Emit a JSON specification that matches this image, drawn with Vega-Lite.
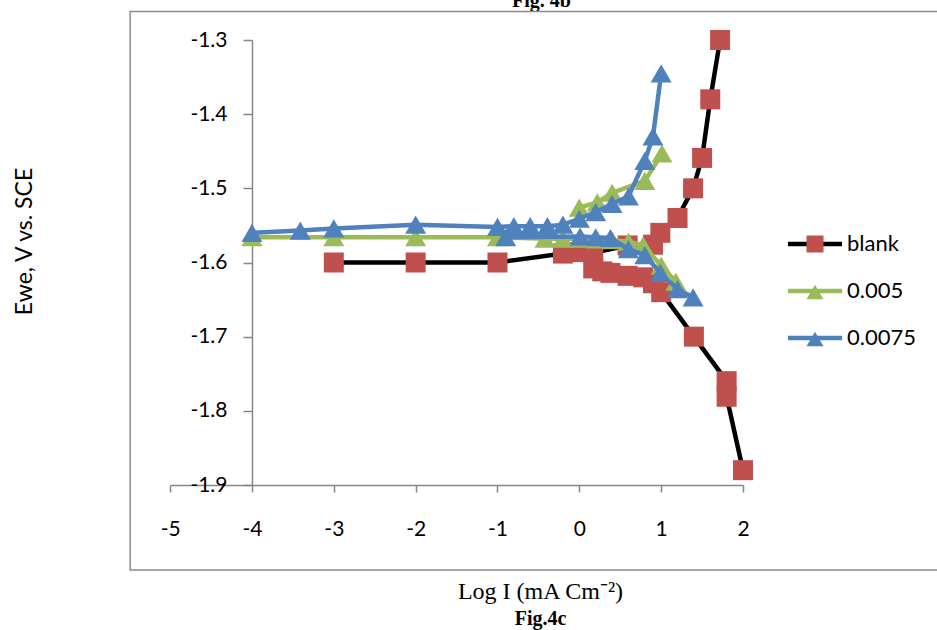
{
  "$schema": "https://vega.github.io/schema/vega-lite/v6.json",
  "width": 491,
  "height": 445,
  "autosize": {"type": "none"},
  "padding": {"left": 252, "top": 40, "right": 194, "bottom": 145},
  "background": "white",
  "config": {"view": {"stroke": null}, "font": "Lato"},
  "title": {"text": "Fig.4c", "orient": "bottom", "anchor": "middle", "frame": "group", "dx": 43, "offset": 6, "font": "Liberation Serif", "fontSize": 20, "fontWeight": "bold", "color": "black"},
  "resolve": {"axis": {"x": "independent"}},
  "data": {"values": [
    {"s":"blank","b":"a","o":1,"x":-3,"y":-1.6},
    {"s":"blank","b":"a","o":2,"x":-2,"y":-1.6},
    {"s":"blank","b":"a","o":3,"x":-1,"y":-1.6},
    {"s":"blank","b":"a","o":4,"x":-0.2,"y":-1.588},
    {"s":"blank","b":"a","o":5,"x":-0.02,"y":-1.586},
    {"s":"blank","b":"a","o":6,"x":0.17,"y":-1.587},
    {"s":"blank","b":"a","o":7,"x":0.59,"y":-1.577},
    {"s":"blank","b":"a","o":8,"x":0.9,"y":-1.576},
    {"s":"blank","b":"a","o":9,"x":0.99,"y":-1.56},
    {"s":"blank","b":"a","o":10,"x":1.2,"y":-1.54},
    {"s":"blank","b":"a","o":11,"x":1.39,"y":-1.5},
    {"s":"blank","b":"a","o":12,"x":1.5,"y":-1.459},
    {"s":"blank","b":"a","o":13,"x":1.6,"y":-1.38},
    {"s":"blank","b":"a","o":14,"x":1.72,"y":-1.3},
    {"s":"blank","b":"b","o":1,"x":0.17,"y":-1.608},
    {"s":"blank","b":"b","o":2,"x":0.28,"y":-1.612},
    {"s":"blank","b":"b","o":3,"x":0.38,"y":-1.614},
    {"s":"blank","b":"b","o":4,"x":0.59,"y":-1.618},
    {"s":"blank","b":"b","o":5,"x":0.78,"y":-1.62},
    {"s":"blank","b":"b","o":6,"x":0.9,"y":-1.628},
    {"s":"blank","b":"b","o":7,"x":1.0,"y":-1.64},
    {"s":"blank","b":"b","o":8,"x":1.4,"y":-1.7},
    {"s":"blank","b":"b","o":9,"x":1.8,"y":-1.76},
    {"s":"blank","b":"b","o":10,"x":1.8,"y":-1.781},
    {"s":"blank","b":"b","o":11,"x":2.0,"y":-1.88},
    {"s":"0.005","b":"a","o":1,"x":-4,"y":-1.566},
    {"s":"0.005","b":"a","o":2,"x":-3,"y":-1.566},
    {"s":"0.005","b":"a","o":3,"x":-2,"y":-1.566},
    {"s":"0.005","b":"a","o":4,"x":-1,"y":-1.566},
    {"s":"0.005","b":"a","o":5,"x":-0.42,"y":-1.568},
    {"s":"0.005","b":"a","o":6,"x":-0.2,"y":-1.568},
    {"s":"0.005","b":"a","o":7,"x":0.0,"y":-1.568},
    {"s":"0.005","b":"a","o":8,"x":0.2,"y":-1.569},
    {"s":"0.005","b":"a","o":9,"x":0.4,"y":-1.57},
    {"s":"0.005","b":"a","o":10,"x":0.6,"y":-1.572},
    {"s":"0.005","b":"a","o":11,"x":0.78,"y":-1.577},
    {"s":"0.005","b":"a","o":12,"x":1.0,"y":-1.604},
    {"s":"0.005","b":"a","o":13,"x":1.18,"y":-1.626},
    {"s":"0.005","b":"b","o":1,"x":0.0,"y":-1.526},
    {"s":"0.005","b":"b","o":2,"x":0.22,"y":-1.519},
    {"s":"0.005","b":"b","o":3,"x":0.4,"y":-1.506},
    {"s":"0.005","b":"b","o":4,"x":0.8,"y":-1.49},
    {"s":"0.005","b":"b","o":5,"x":1.01,"y":-1.453},
    {"s":"0.0075","b":"a","o":1,"x":-4,"y":-1.56},
    {"s":"0.0075","b":"a","o":2,"x":-3.41,"y":-1.557},
    {"s":"0.0075","b":"a","o":3,"x":-3,"y":-1.554},
    {"s":"0.0075","b":"a","o":4,"x":-2,"y":-1.549},
    {"s":"0.0075","b":"a","o":5,"x":-1,"y":-1.552},
    {"s":"0.0075","b":"a","o":6,"x":-0.8,"y":-1.551},
    {"s":"0.0075","b":"a","o":7,"x":-0.6,"y":-1.551},
    {"s":"0.0075","b":"a","o":8,"x":-0.39,"y":-1.551},
    {"s":"0.0075","b":"a","o":9,"x":-0.2,"y":-1.549},
    {"s":"0.0075","b":"a","o":10,"x":0.0,"y":-1.541},
    {"s":"0.0075","b":"a","o":11,"x":0.2,"y":-1.532},
    {"s":"0.0075","b":"a","o":12,"x":0.4,"y":-1.521},
    {"s":"0.0075","b":"a","o":13,"x":0.6,"y":-1.511},
    {"s":"0.0075","b":"a","o":14,"x":0.8,"y":-1.463},
    {"s":"0.0075","b":"a","o":15,"x":0.9,"y":-1.43},
    {"s":"0.0075","b":"a","o":16,"x":1.0,"y":-1.345},
    {"s":"0.0075","b":"b","o":1,"x":-0.9,"y":-1.566},
    {"s":"0.0075","b":"b","o":2,"x":0.01,"y":-1.565},
    {"s":"0.0075","b":"b","o":3,"x":0.2,"y":-1.566},
    {"s":"0.0075","b":"b","o":4,"x":0.38,"y":-1.567},
    {"s":"0.0075","b":"b","o":5,"x":0.6,"y":-1.582},
    {"s":"0.0075","b":"b","o":6,"x":0.8,"y":-1.59},
    {"s":"0.0075","b":"b","o":7,"x":0.99,"y":-1.614},
    {"s":"0.0075","b":"b","o":8,"x":1.2,"y":-1.636},
    {"s":"0.0075","b":"b","o":9,"x":1.39,"y":-1.647}
  ]},
  "layer": [
    {
      "data": {"values": [{}]},
      "mark": {"type": "rect", "fill": null, "stroke": "#8c8c8c", "strokeWidth": 1.5},
      "encoding": {
        "x": {"datum": -5.4887, "type": "quantitative", "scale": {"domain": [-5, 2], "range": [-81.86, 491], "nice": false, "zero": false}, "axis": null},
        "x2": {"datum": 4.6},
        "y": {"datum": -1.2616, "type": "quantitative", "scale": {"domain": [-1.9, -1.3], "nice": false, "zero": false},
          "axis": {"orient": "left", "values": [-1.9, -1.8, -1.7, -1.6, -1.5, -1.4, -1.3], "labelExpr": "'-' + format(-datum.value, '.1f')", "domainColor": "#868686", "domainWidth": 1.5, "tickColor": "#868686", "tickWidth": 1.5, "tickSize": 9, "labelFont": "Lato", "labelFontSize": 21, "labelColor": "black", "labelPadding": 16, "labelOverlap": false, "grid": false, "title": "Ewe, V vs. SCE", "titleFont": "Lato", "titleFontSize": 23, "titleFontWeight": "normal", "titleColor": "black", "titleX": -228, "titleY": 201, "titleAngle": -90, "titleAlign": "center", "titleBaseline": "middle"}},
        "y2": {"datum": -2.0146}
      }
    },
    {
      "transform": [{"filter": "datum.s == 'blank'"}],
      "mark": {"type": "line", "strokeWidth": 4.5, "strokeJoin": "round"},
      "encoding": {
        "x": {"field": "x", "type": "quantitative", "scale": {"domain": [-5, 2], "range": [-81.86, 491], "nice": false, "zero": false},
          "axis": {"orient": "bottom", "values": [-5, -4, -3, -2, -1, 0, 1, 2],
            "labelExpr": "datum.value < 0 ? '-' + format(-datum.value, 'd') : format(datum.value, 'd')",
            "domainColor": "#868686", "domainWidth": 1.5, "tickColor": "#868686", "tickWidth": 1.5, "tickSize": 7,
            "labelFont": "Lato", "labelFontSize": 21, "labelColor": "black", "labelPadding": 26, "labelFlush": false, "labelOverlap": false,
            "grid": false, "title": "Log I (mA Cm⁻²)", "titleFont": "Liberation Serif", "titleFontSize": 24, "titleFontWeight": "normal",
            "titleColor": "black", "titleX": 288, "titleY": 113, "titleAlign": "center", "titleBaseline": "alphabetic"}},
        "y": {"field": "y", "type": "quantitative", "scale": {"domain": [-1.9, -1.3], "nice": false, "zero": false},
          "axis": {"orient": "left", "values": [-1.9, -1.8, -1.7, -1.6, -1.5, -1.4, -1.3], "labelExpr": "'-' + format(-datum.value, '.1f')", "domainColor": "#868686", "domainWidth": 1.5, "tickColor": "#868686", "tickWidth": 1.5, "tickSize": 9, "labelFont": "Lato", "labelFontSize": 21, "labelColor": "black", "labelPadding": 16, "labelOverlap": false, "grid": false, "title": "Ewe, V vs. SCE", "titleFont": "Lato", "titleFontSize": 23, "titleFontWeight": "normal", "titleColor": "black", "titleX": -228, "titleY": 201, "titleAngle": -90, "titleAlign": "center", "titleBaseline": "middle"}},
        "stroke": {"field": "s", "type": "nominal", "scale": {"domain": ["blank", "0.005", "0.0075"], "range": ["#000000", "#9BBB59", "#4F81BD"]},
          "legend": {"title": null, "orient": "none", "legendX": 552, "legendY": 193, "padding": 0, "symbolType": "M-3.18,0H3.18", "symbolSize": 289, "symbolStrokeWidth": 4.5, "symbolFillColor": "transparent", "labelFont": "Lato", "labelFontSize": 22, "labelColor": "black", "labelOffset": 21, "rowPadding": 25}},
        "detail": {"field": "b"},
        "order": {"field": "o", "type": "quantitative"}
      }
    },
    {
      "transform": [{"filter": "datum.s == 'blank'"}],
      "mark": {"type": "point", "filled": true, "opacity": 1, "strokeWidth": 0, "size": 400},
      "encoding": {
        "x": {"field": "x", "type": "quantitative", "scale": {"domain": [-5, 2], "range": [-81.86, 491], "nice": false, "zero": false},
          "axis": {"orient": "top", "title": "Fig. 4b", "labels": false, "ticks": false, "domain": false, "grid": false,
            "titleFont": "Liberation Serif", "titleFontSize": 20, "titleFontWeight": "bold", "titleColor": "black",
            "titleX": 289, "titleY": -34, "titleAlign": "center", "titleBaseline": "alphabetic"}},
        "y": {"field": "y", "type": "quantitative", "scale": {"domain": [-1.9, -1.3], "nice": false, "zero": false},
          "axis": {"orient": "left", "values": [-1.9, -1.8, -1.7, -1.6, -1.5, -1.4, -1.3], "labelExpr": "'-' + format(-datum.value, '.1f')", "domainColor": "#868686", "domainWidth": 1.5, "tickColor": "#868686", "tickWidth": 1.5, "tickSize": 9, "labelFont": "Lato", "labelFontSize": 21, "labelColor": "black", "labelPadding": 16, "labelOverlap": false, "grid": false, "title": "Ewe, V vs. SCE", "titleFont": "Lato", "titleFontSize": 23, "titleFontWeight": "normal", "titleColor": "black", "titleX": -228, "titleY": 201, "titleAngle": -90, "titleAlign": "center", "titleBaseline": "middle"}},
        "fill": {"field": "s", "type": "nominal", "scale": {"domain": ["0.005", "0.0075", "blank"], "range": ["#9BBB59", "#4F81BD", "#C0504D"]},
          "legend": {"title": null, "orient": "none", "legendX": 552, "legendY": 193, "padding": 0, "values": ["blank", "0.005", "0.0075"], "symbolSize": 289, "symbolStrokeWidth": 4.5, "symbolStrokeColor": "transparent", "symbolOpacity": 1, "labelFont": "Lato", "labelFontSize": 22, "labelOpacity": 0, "labelOffset": 21, "rowPadding": 13}},
        "shape": {"field": "s", "type": "nominal", "scale": {"domain": ["0.005", "0.0075", "blank"], "range": ["triangle-up", "triangle-up", "square"]},
          "legend": {"title": null, "orient": "none", "legendX": 552, "legendY": 193, "padding": 0, "values": ["blank", "0.005", "0.0075"], "symbolSize": 289, "symbolStrokeWidth": 4.5, "symbolStrokeColor": "transparent", "symbolOpacity": 1, "labelFont": "Lato", "labelFontSize": 22, "labelOpacity": 0, "labelOffset": 21, "rowPadding": 13}}
      }
    },
    {
      "transform": [{"filter": "datum.s == '0.005'"}],
      "mark": {"type": "line", "strokeWidth": 4.5, "strokeJoin": "round"},
      "encoding": {
        "x": {"field": "x", "type": "quantitative", "scale": {"domain": [-5, 2], "range": [-81.86, 491], "nice": false, "zero": false}, "axis": null},
        "y": {"field": "y", "type": "quantitative", "scale": {"domain": [-1.9, -1.3], "nice": false, "zero": false},
          "axis": {"orient": "left", "values": [-1.9, -1.8, -1.7, -1.6, -1.5, -1.4, -1.3], "labelExpr": "'-' + format(-datum.value, '.1f')", "domainColor": "#868686", "domainWidth": 1.5, "tickColor": "#868686", "tickWidth": 1.5, "tickSize": 9, "labelFont": "Lato", "labelFontSize": 21, "labelColor": "black", "labelPadding": 16, "labelOverlap": false, "grid": false, "title": "Ewe, V vs. SCE", "titleFont": "Lato", "titleFontSize": 23, "titleFontWeight": "normal", "titleColor": "black", "titleX": -228, "titleY": 201, "titleAngle": -90, "titleAlign": "center", "titleBaseline": "middle"}},
        "stroke": {"field": "s", "type": "nominal", "scale": {"domain": ["blank", "0.005", "0.0075"], "range": ["#000000", "#9BBB59", "#4F81BD"]},
          "legend": {"title": null, "orient": "none", "legendX": 552, "legendY": 193, "padding": 0, "symbolType": "M-3.18,0H3.18", "symbolSize": 289, "symbolStrokeWidth": 4.5, "symbolFillColor": "transparent", "labelFont": "Lato", "labelFontSize": 22, "labelColor": "black", "labelOffset": 21, "rowPadding": 25}},
        "detail": {"field": "b"},
        "order": {"field": "o", "type": "quantitative"}
      }
    },
    {
      "transform": [{"filter": "datum.s == '0.005'"}],
      "mark": {"type": "point", "filled": true, "opacity": 1, "strokeWidth": 0, "size": 440},
      "encoding": {
        "x": {"field": "x", "type": "quantitative", "scale": {"domain": [-5, 2], "range": [-81.86, 491], "nice": false, "zero": false}, "axis": null},
        "y": {"field": "y", "type": "quantitative", "scale": {"domain": [-1.9, -1.3], "nice": false, "zero": false},
          "axis": {"orient": "left", "values": [-1.9, -1.8, -1.7, -1.6, -1.5, -1.4, -1.3], "labelExpr": "'-' + format(-datum.value, '.1f')", "domainColor": "#868686", "domainWidth": 1.5, "tickColor": "#868686", "tickWidth": 1.5, "tickSize": 9, "labelFont": "Lato", "labelFontSize": 21, "labelColor": "black", "labelPadding": 16, "labelOverlap": false, "grid": false, "title": "Ewe, V vs. SCE", "titleFont": "Lato", "titleFontSize": 23, "titleFontWeight": "normal", "titleColor": "black", "titleX": -228, "titleY": 201, "titleAngle": -90, "titleAlign": "center", "titleBaseline": "middle"}},
        "fill": {"field": "s", "type": "nominal", "scale": {"domain": ["0.005", "0.0075", "blank"], "range": ["#9BBB59", "#4F81BD", "#C0504D"]},
          "legend": {"title": null, "orient": "none", "legendX": 552, "legendY": 193, "padding": 0, "values": ["blank", "0.005", "0.0075"], "symbolSize": 289, "symbolStrokeWidth": 4.5, "symbolStrokeColor": "transparent", "symbolOpacity": 1, "labelFont": "Lato", "labelFontSize": 22, "labelOpacity": 0, "labelOffset": 21, "rowPadding": 13}},
        "shape": {"field": "s", "type": "nominal", "scale": {"domain": ["0.005", "0.0075", "blank"], "range": ["triangle-up", "triangle-up", "square"]},
          "legend": {"title": null, "orient": "none", "legendX": 552, "legendY": 193, "padding": 0, "values": ["blank", "0.005", "0.0075"], "symbolSize": 289, "symbolStrokeWidth": 4.5, "symbolStrokeColor": "transparent", "symbolOpacity": 1, "labelFont": "Lato", "labelFontSize": 22, "labelOpacity": 0, "labelOffset": 21, "rowPadding": 13}}
      }
    },
    {
      "transform": [{"filter": "datum.s == '0.0075'"}],
      "mark": {"type": "line", "strokeWidth": 4.5, "strokeJoin": "round"},
      "encoding": {
        "x": {"field": "x", "type": "quantitative", "scale": {"domain": [-5, 2], "range": [-81.86, 491], "nice": false, "zero": false}, "axis": null},
        "y": {"field": "y", "type": "quantitative", "scale": {"domain": [-1.9, -1.3], "nice": false, "zero": false},
          "axis": {"orient": "left", "values": [-1.9, -1.8, -1.7, -1.6, -1.5, -1.4, -1.3], "labelExpr": "'-' + format(-datum.value, '.1f')", "domainColor": "#868686", "domainWidth": 1.5, "tickColor": "#868686", "tickWidth": 1.5, "tickSize": 9, "labelFont": "Lato", "labelFontSize": 21, "labelColor": "black", "labelPadding": 16, "labelOverlap": false, "grid": false, "title": "Ewe, V vs. SCE", "titleFont": "Lato", "titleFontSize": 23, "titleFontWeight": "normal", "titleColor": "black", "titleX": -228, "titleY": 201, "titleAngle": -90, "titleAlign": "center", "titleBaseline": "middle"}},
        "stroke": {"field": "s", "type": "nominal", "scale": {"domain": ["blank", "0.005", "0.0075"], "range": ["#000000", "#9BBB59", "#4F81BD"]},
          "legend": {"title": null, "orient": "none", "legendX": 552, "legendY": 193, "padding": 0, "symbolType": "M-3.18,0H3.18", "symbolSize": 289, "symbolStrokeWidth": 4.5, "symbolFillColor": "transparent", "labelFont": "Lato", "labelFontSize": 22, "labelColor": "black", "labelOffset": 21, "rowPadding": 25}},
        "detail": {"field": "b"},
        "order": {"field": "o", "type": "quantitative"}
      }
    },
    {
      "transform": [{"filter": "datum.s == '0.0075'"}],
      "mark": {"type": "point", "filled": true, "opacity": 1, "strokeWidth": 0, "size": 440},
      "encoding": {
        "x": {"field": "x", "type": "quantitative", "scale": {"domain": [-5, 2], "range": [-81.86, 491], "nice": false, "zero": false}, "axis": null},
        "y": {"field": "y", "type": "quantitative", "scale": {"domain": [-1.9, -1.3], "nice": false, "zero": false},
          "axis": {"orient": "left", "values": [-1.9, -1.8, -1.7, -1.6, -1.5, -1.4, -1.3], "labelExpr": "'-' + format(-datum.value, '.1f')", "domainColor": "#868686", "domainWidth": 1.5, "tickColor": "#868686", "tickWidth": 1.5, "tickSize": 9, "labelFont": "Lato", "labelFontSize": 21, "labelColor": "black", "labelPadding": 16, "labelOverlap": false, "grid": false, "title": "Ewe, V vs. SCE", "titleFont": "Lato", "titleFontSize": 23, "titleFontWeight": "normal", "titleColor": "black", "titleX": -228, "titleY": 201, "titleAngle": -90, "titleAlign": "center", "titleBaseline": "middle"}},
        "fill": {"field": "s", "type": "nominal", "scale": {"domain": ["0.005", "0.0075", "blank"], "range": ["#9BBB59", "#4F81BD", "#C0504D"]},
          "legend": {"title": null, "orient": "none", "legendX": 552, "legendY": 193, "padding": 0, "values": ["blank", "0.005", "0.0075"], "symbolSize": 289, "symbolStrokeWidth": 4.5, "symbolStrokeColor": "transparent", "symbolOpacity": 1, "labelFont": "Lato", "labelFontSize": 22, "labelOpacity": 0, "labelOffset": 21, "rowPadding": 13}},
        "shape": {"field": "s", "type": "nominal", "scale": {"domain": ["0.005", "0.0075", "blank"], "range": ["triangle-up", "triangle-up", "square"]},
          "legend": {"title": null, "orient": "none", "legendX": 552, "legendY": 193, "padding": 0, "values": ["blank", "0.005", "0.0075"], "symbolSize": 289, "symbolStrokeWidth": 4.5, "symbolStrokeColor": "transparent", "symbolOpacity": 1, "labelFont": "Lato", "labelFontSize": 22, "labelOpacity": 0, "labelOffset": 21, "rowPadding": 13}}
      }
    }
  ]
}
